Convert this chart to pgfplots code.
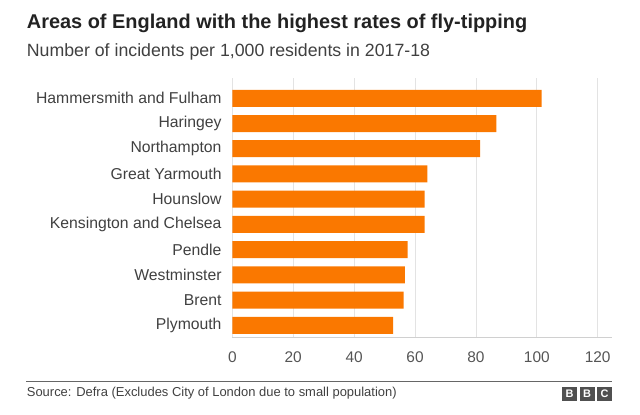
\documentclass[border=0pt]{standalone}
\usepackage{pgfplots}
\pgfplotsset{compat=1.18}
\usepackage{fontspec}
\setmainfont{Liberation Sans}
\definecolor{barorange}{RGB}{250,120,0}
\definecolor{titlecol}{HTML}{222222}
\definecolor{labcol}{HTML}{404040}
\definecolor{tickcol}{HTML}{555555}
\definecolor{gridcol}{HTML}{E3E3E3}
\definecolor{axcol}{HTML}{D0D0D0}
\definecolor{logocol}{HTML}{505050}
\pgfplotstableread{
idx value
0 52.8
1 56.3
2 56.7
3 57.6
4 63.2
5 63.2
6 64.1
7 81.4
8 86.7
9 101.6
}\flydata
\begin{document}
\begin{tikzpicture}[x=1bp,y=1bp]
\path[use as bounding box] (0,0) rectangle (640,414);
\node[anchor=base west, inner sep=0pt, text=titlecol] at (26.7,385.7) {\fontsize{20}{22}\selectfont\bfseries Areas of England with the highest rates of fly-tipping};
\node[anchor=base west, inner sep=0pt, text=labcol] at (26.7,357.3) {\fontsize{17.8}{20}\selectfont Number of incidents per 1,000 residents in 2017-18};
\begin{axis}[
  at={(232.3bp,76.7bp)}, anchor=south west,
  scale only axis, width=379.4bp, height=259.3bp,
  xmin=0, xmax=124.6, ymin=-0.476, ymax=9.805,
  xbar, bar width=17bp,
  axis x line*=bottom, axis y line*=left,
  y axis line style={draw=none},
  x axis line style={color=axcol, line width=0.8bp, -},
  major tick length=0pt,
  xtick={0,20,...,120},
  ytick={0,...,9},
  yticklabels={Plymouth,Brent,Westminster,Pendle,Kensington and Chelsea,Hounslow,Great Yarmouth,Northampton,Haringey,Hammersmith and Fulham},
  xmajorgrids, grid style={color=gridcol, line width=0.8bp},
  /pgf/number format/assume math mode=true,
  xticklabel style={font=\fontsize{15.5}{18}\selectfont, text=tickcol, inner sep=0pt, yshift=-14bp},
  yticklabel style={font=\fontsize{15.8}{18}\selectfont, text=labcol, inner sep=0pt, anchor=east, xshift=-10.6bp},
]
\addplot[fill=barorange, draw=none] table[x=value, y=idx] {\flydata};
\end{axis}
\draw[color=black!60, line width=1bp] (26,33) -- (612,33);
\node[anchor=base west, inner sep=0pt, text=labcol] at (26.7,17.3) {\fontsize{13}{15}\selectfont Source: Defra (Excludes City of London due to small population)};
\foreach \xx/\ll in {562/B,579.5/B,597/C}{
  \fill[logocol] (\xx,13.5) rectangle ++(15,14);
  \node[text=white, inner sep=0pt] at (\xx+7.5,20.5) {\fontsize{11}{12}\selectfont\bfseries \ll};
}
\end{tikzpicture}
\end{document}
